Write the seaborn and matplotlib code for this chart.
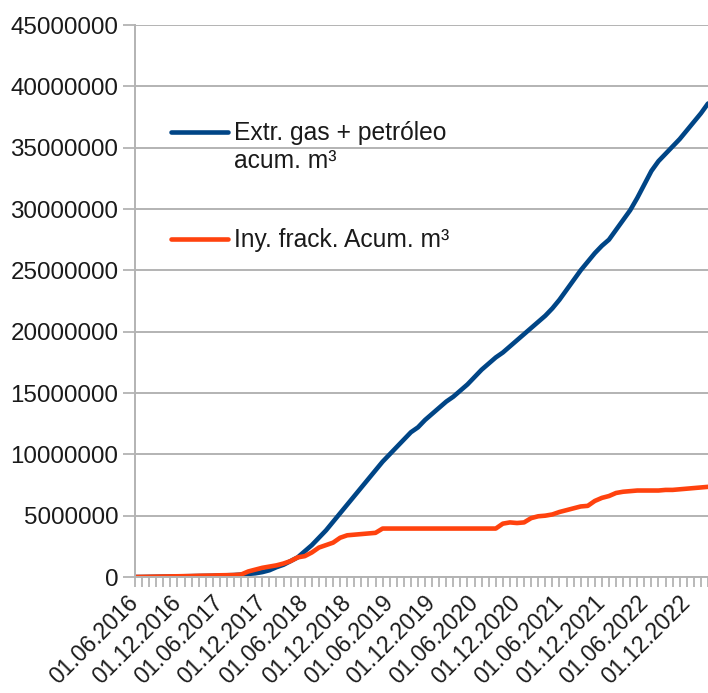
import numpy as np
import pandas as pd
import matplotlib
matplotlib.use("Agg")
import matplotlib.pyplot as plt
import seaborn as sns

# meses (eje de categorias), jun 2016 .. mar 2023
meses = pd.date_range("2016-06-01", "2023-03-01", freq="MS")

# valores, en millones de m3
extr_mm3 = [0.00, 0.00, 0.01, 0.02, 0.03, 0.04, 0.05, 0.06, 0.07, 0.08, 0.09, 0.10,
            0.12, 0.14, 0.16, 0.20, 0.25, 0.30, 0.40, 0.55, 0.80, 1.00, 1.30, 1.60,
            2.10, 2.60, 3.20, 3.80, 4.50, 5.20, 5.90, 6.60, 7.30, 8.00, 8.70, 9.40,
            10.0, 10.6, 11.2, 11.8, 12.2, 12.8, 13.3, 13.8, 14.3, 14.7, 15.2, 15.7,
            16.3, 16.9, 17.4, 17.9, 18.3, 18.8, 19.3, 19.8, 20.3, 20.8, 21.3, 21.9,
            22.6, 23.4, 24.2, 25.0, 25.7, 26.4, 27.0, 27.5, 28.3, 29.1, 29.9, 30.9,
            32.0, 33.1, 33.9, 34.5, 35.1, 35.7, 36.4, 37.1, 37.8, 38.6]
iny_mm3 = [0.00, 0.01, 0.02, 0.03, 0.04, 0.05, 0.06, 0.07, 0.08, 0.10, 0.11, 0.12,
           0.14, 0.15, 0.16, 0.20, 0.45, 0.60, 0.75, 0.85, 0.95, 1.10, 1.30, 1.60,
           1.70, 2.00, 2.40, 2.60, 2.80, 3.20, 3.40, 3.45, 3.50, 3.55, 3.60, 3.95,
           3.95, 3.95, 3.95, 3.95, 3.95, 3.95, 3.95, 3.95, 3.95, 3.95, 3.95, 3.95,
           3.95, 3.95, 3.95, 3.95, 4.35, 4.45, 4.40, 4.45, 4.80, 4.95, 5.00, 5.10,
           5.30, 5.45, 5.60, 5.75, 5.80, 6.20, 6.45, 6.60, 6.85, 6.95, 7.00, 7.05,
           7.05, 7.05, 7.05, 7.10, 7.10, 7.15, 7.20, 7.25, 7.30, 7.35]

series = ["Extr. gas + petróleo\nacum. m³", "Iny. frack. Acum. m³"]
colores = ["#004586", "#ff420e"]
y_ticks = list(range(0, 45000001, 5000000))

sns.set_theme(style="white")
plt.rcParams["font.family"] = ["Liberation Sans", "DejaVu Sans"]
plt.rcParams["font.size"] = 17
GRIS = "#b3b3b3"
TXT = "#1a1a1a"

df = pd.DataFrame({"mes": np.arange(len(meses)),
                   series[0]: np.array(extr_mm3) * 1e6,
                   series[1]: np.array(iny_mm3) * 1e6})
df = df.melt(id_vars="mes", var_name="serie", value_name="m3")

fig = plt.figure(figsize=(7.08, 6.93), dpi=100)
ax = fig.add_axes([135 / 708, 1 - 577 / 693, 573 / 708, 552 / 693])
sns.lineplot(data=df, x="mes", y="m3", hue="serie", hue_order=series,
             palette=dict(zip(series, colores)), lw=3.3, ax=ax, legend=False,
             solid_joinstyle="round", solid_capstyle="round")

ax.set_xlim(0, len(meses) - 1)
ax.set_ylim(0, 45000000)
ax.set_yticks(y_ticks)
ax.set_yticklabels([str(v) for v in y_ticks], fontsize=17.4, color=TXT)
ax.set_xticks(np.arange(len(meses)))
ax.set_xticklabels([d.strftime("%d.%m.%Y") if d.month in (6, 12) else "" for d in meses],
                   rotation=45, ha="right", va="center", rotation_mode="anchor",
                   fontsize=16.6, color=TXT)
ax.tick_params(axis="x", length=7, width=1.3, color=GRIS, pad=9, bottom=True)
ax.tick_params(axis="y", length=9, width=1.3, color=GRIS, pad=3, left=True)
ax.set_xlabel(""); ax.set_ylabel("")
ax.grid(axis="y", color=GRIS, lw=1.4)
ax.set_axisbelow(True)
for s in ["top", "right"]:
    ax.spines[s].set_visible(False)
for s in ["left", "bottom"]:
    ax.spines[s].set_color(GRIS); ax.spines[s].set_linewidth(1.4)

# leyenda sin marco; la linea de la primera serie alineada con su primera linea de texto
leg = ax.legend(ax.get_lines()[:2], series, loc="upper left", bbox_to_anchor=(0.042, 0.848),
                frameon=False, fontsize=17.7, handlelength=2.3, handletextpad=0.25,
                labelspacing=2.25, borderpad=0)
for t in leg.get_texts():
    t.set_color(TXT)
h0 = leg.legend_handles[0]
h0.set_ydata([v + 11.5 for v in h0.get_ydata()])

fig.savefig("out.png", dpi=100)
